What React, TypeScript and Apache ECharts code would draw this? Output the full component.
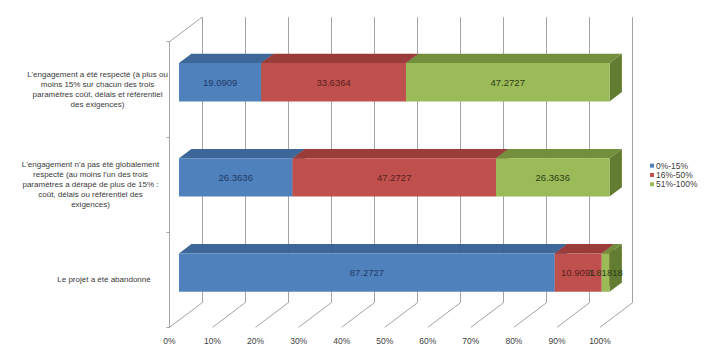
import React, { useEffect, useRef } from "react";
import * as echarts from "echarts";

const categories = [
  "L'engagement a été respecté (à plus ou\nmoins 15% sur chacun des trois\nparamètres coût, délais et référentiel\ndes exigences)",
  "L'engagement n'a pas été globalement\nrespecté (au moins l'un des trois\nparamètres a dérapé de plus de 15% :\ncoût, délais ou référentiel des\nexigences)",
  "Le projet a été abandonné",
];
const seriesNames = ["0%-15%", "16%-50%", "51%-100%"];
const low = [19.0909, 26.3636, 87.2727];
const mid = [33.6364, 47.2727, 10.9091];
const high = [47.2727, 26.3636, 1.81818];
const xTicks = [0, 10, 20, 30, 40, 50, 60, 70, 80, 90, 100];

const FRONT = ["#4f81bd", "#c0504d", "#9bbb59"];
const TOP = ["#3c6798", "#9a3d3a", "#738f3d"];
const SIDE = ["#2f5684", "#853230", "#627c31"];
const LABEL = ["#1f3a66", "#5a1f1d", "#2e3b14"];

const FONT = "'Liberation Sans', Arial, sans-serif";
const GRID_L = 169.5, GRID_T = 41.7, GRID_W = 430.5, GRID_H = 285.6;
const WALL_DX = 32.5, WALL_DY = -24.5;
const FRONT_DX = 9.5, FRONT_DY = -7.1;
const DEPTH_DX = 12.4, DEPTH_DY = -9.3;
const BAR_RATIO = 0.403;
const LINE = "#a3a3a3";
const TXT = "#3a3a3a";

export default function App() {
  const ref = useRef<HTMLDivElement>(null);
  useEffect(() => {
    if (!ref.current) return;
    const chart = echarts.init(ref.current, undefined, { renderer: "svg" });
    const all = [low, mid, high];
    const makeData = (si: number) =>
      categories.map((_, ci) => {
        let start = 0;
        for (let k = 0; k < si; k++) start += all[k][ci];
        const v = all[si][ci];
        return [start, ci, start + v, v];
      });
    const renderBar = (si: number) => (params: any, api: any) => {
      const start = api.value(0);
      const ci = api.value(1);
      const end = api.value(2);
      const v = api.value(3);
      const p0 = api.coord([start, ci]);
      const p1 = api.coord([end, ci]);
      const band = api.size([0, 1])[1];
      const h = band * BAR_RATIO;
      const x0 = p0[0] + FRONT_DX;
      const x1 = p1[0] + FRONT_DX;
      const yT = p0[1] + FRONT_DY - h / 2;
      const yB = yT + h;
      return {
        type: "group",
        children: [
          {
            type: "polygon",
            shape: { points: [[x1, yT], [x1 + DEPTH_DX, yT + DEPTH_DY], [x1 + DEPTH_DX, yB + DEPTH_DY], [x1, yB]] },
            style: { fill: SIDE[si] },
          },
          {
            type: "polygon",
            shape: { points: [[x0, yT], [x1, yT], [x1 + DEPTH_DX, yT + DEPTH_DY], [x0 + DEPTH_DX, yT + DEPTH_DY]] },
            style: { fill: TOP[si] },
          },
          {
            type: "rect",
            shape: { x: x0, y: yT, width: x1 - x0, height: h },
            style: { fill: FRONT[si] },
          },
          {
            type: "text",
            x: (x0 + x1) / 2,
            y: (yT + yB) / 2,
            style: {
              text: String(v),
              fill: LABEL[si],
              font: `9.5px ${FONT}`,
              textAlign: "center",
              textVerticalAlign: "middle",
            },
            z2: 10,
          },
        ],
      };
    };
    const series: any[] = seriesNames.map((name, si) => ({
      name,
      type: "custom",
      xAxisIndex: 0,
      yAxisIndex: 0,
      itemStyle: { color: FRONT[si] },
      encode: { x: [0, 2], y: 1 },
      data: makeData(si),
      renderItem: renderBar(si),
      z: 5,
    }));
    series.push({
      name: "floor",
      type: "custom",
      xAxisIndex: 0,
      yAxisIndex: 0,
      silent: true,
      z: 1,
      encode: { x: 0, y: 1 },
      data: xTicks.map((t) => [t, 0]),
      renderItem: (params: any, api: any) => {
        const cs = params.coordSys;
        const x = api.coord([api.value(0), 0])[0];
        const fy = cs.y + cs.height;
        const children: any[] = [
          {
            type: "line",
            shape: { x1: x, y1: fy, x2: x + WALL_DX, y2: fy + WALL_DY },
            style: { stroke: LINE, lineWidth: 1 },
          },
        ];
        if (api.value(0) === 0) {
          children.push({
            type: "line",
            shape: { x1: x, y1: cs.y, x2: x + WALL_DX, y2: cs.y + WALL_DY },
            style: { stroke: LINE, lineWidth: 1 },
          });
        }
        return { type: "group", children };
      },
    });
    const labStyle = { fontSize: 8, lineHeight: 10, color: TXT, fontFamily: FONT, align: "center" };
    chart.setOption({
      animation: false,
      backgroundColor: "#ffffff",
      textStyle: { fontFamily: FONT },
      legend: {
        orient: "vertical",
        left: 650,
        top: 161,
        icon: "rect",
        itemWidth: 4,
        itemHeight: 4,
        itemGap: 0,
        padding: 0,
        data: seriesNames,
        textStyle: { fontSize: 8.5, color: "#404040", lineHeight: 9.3, fontFamily: FONT, padding: [0, 0, 0, -3] },
      },
      grid: [
        { left: GRID_L, top: GRID_T, width: GRID_W, height: GRID_H },
        { left: GRID_L + WALL_DX, top: GRID_T + WALL_DY, width: GRID_W, height: GRID_H },
      ],
      xAxis: [
        {
          type: "value",
          gridIndex: 0,
          min: 0,
          max: 100,
          interval: 10,
          axisLine: { show: false },
          axisTick: { show: false },
          splitLine: { show: false },
          axisLabel: { formatter: "{value}%", fontSize: 8.5, color: "#404040", margin: 9, fontFamily: FONT },
        },
        {
          type: "value",
          gridIndex: 1,
          min: 0,
          max: 100,
          interval: 10,
          axisLine: { show: false },
          axisTick: { show: false },
          axisLabel: { show: false },
          splitLine: { show: true, lineStyle: { color: LINE, width: 1 } },
        },
      ],
      yAxis: [
        {
          type: "category",
          gridIndex: 0,
          inverse: true,
          data: categories,
          axisLine: { show: true, lineStyle: { color: LINE } },
          axisTick: { show: true, length: 3, lineStyle: { color: LINE } },
          splitLine: { show: false },
          axisLabel: {
            margin: 73,
            align: "center",
            fontSize: 8,
            lineHeight: 10,
            color: TXT,
            fontFamily: FONT,
            formatter: (val: string) => {
              const i = categories.indexOf(val);
              return `{c${i}|${val}}`;
            },
            rich: {
              c0: { ...labStyle, padding: [0, 0, 0, 2] },
              c1: { ...labStyle, padding: [0, 12, 0, 0] },
              c2: { ...labStyle, padding: [0, 0, 0, 15] },
            },
          },
        },
        {
          type: "value",
          gridIndex: 1,
          show: false,
          splitLine: { show: false },
        },
      ],
      series,
    });
    return () => chart.dispose();
  }, []);
  return (
    <div
      ref={ref}
      style={{ position: "fixed", left: 0, top: 0, width: 705, height: 362, background: "#fff" }}
    />
  );
}
